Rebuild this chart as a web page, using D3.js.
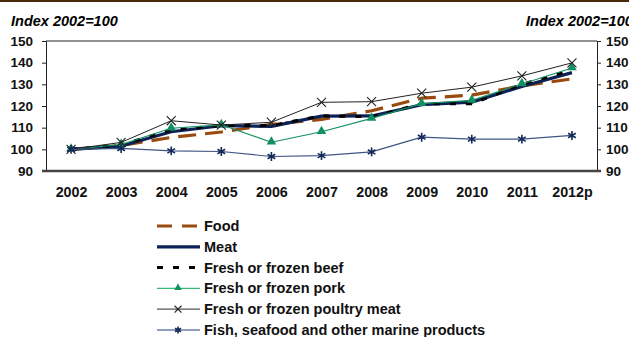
<!DOCTYPE html>
<html>
<head>
<meta charset="utf-8">
<script src="https://cdn.jsdelivr.net/npm/d3@7"></script>
<style>
  body { margin: 0; background: #fff; }
  svg { display: block; font-family: "Liberation Sans", Arial, sans-serif; }
</style>
</head>
<body>
<svg id="chart" width="629" height="337"></svg>
<script>
// data
var years = ["2002", "2003", "2004", "2005", "2006", "2007", "2008", "2009", "2010", "2011", "2012p"];
var food    = [100, 101.8, 105.5, 108, 111.5, 113.8, 117.8, 123.6, 125, 129.3, 132.5];
var meat    = [100, 101.5, 108.1, 110.9, 110.6, 115.3, 115.4, 120.6, 121.8, 129, 135.4];
var beef    = [100, 102, 109, 111, 111, 115.5, 115, 121, 121, 130, 136.5];
var pork    = [100, 102.2, 109.7, 111.3, 103.3, 108.1, 114.3, 121.1, 122.6, 130.2, 137.5];
var poultry = [100, 103.2, 113.2, 111.2, 112.5, 121.7, 122, 125.9, 128.7, 133.9, 139.9];
var fish    = [100, 100.4, 99.3, 99, 96.7, 97.1, 98.8, 105.6, 104.7, 104.7, 106.4];
var yTicks  = [90, 100, 110, 120, 130, 140, 150];

var series = [
  {name: "Food", values: food, color: "#9a4a0e", width: 3.2, dash: "18,9", marker: null},
  {name: "Meat", values: meat, color: "#0c2256", width: 3.2, dash: null, marker: null},
  {name: "Fresh or frozen beef", values: beef, color: "#000", width: 3, dash: "6,10", marker: null},
  {name: "Fresh or frozen pork", values: pork, color: "#139060", width: 1.1, dash: null, marker: "tri"},
  {name: "Fresh or frozen poultry meat", values: poultry, color: "#222", width: 1, dash: null, marker: "x"},
  {name: "Fish, seafood and other marine products", values: fish, color: "#3f5684", width: 1.2, dash: null, marker: "ast"}
];

var svg = d3.select("#chart");
var pLeft = 46, pRight = 597, pTop = 41, pBottom = 171;

var x = d3.scalePoint().domain(years).range([pLeft, pRight]).padding(0.5);
var y = d3.scaleLinear().domain([90, 150]).range([pBottom, pTop]);

// brown rule at the very top
svg.append("rect").attr("x", 0).attr("y", 0).attr("width", 629).attr("height", 2).attr("fill", "#4a2c0c");

// titles
svg.append("text").attr("x", 11).attr("y", 26).text("Index 2002=100")
  .style("font-size", "14.5px").style("font-weight", "bold").style("font-style", "italic");
svg.append("text").attr("x", 526).attr("y", 26).text("Index 2002=100")
  .style("font-size", "14.5px").style("font-weight", "bold").style("font-style", "italic");

// axes
var yl = svg.append("g").attr("transform", "translate(" + pLeft + ",0)")
  .call(d3.axisLeft(y).tickValues(yTicks).tickSize(4).tickPadding(9));
var yr = svg.append("g").attr("transform", "translate(" + pRight + ",0)")
  .call(d3.axisRight(y).tickValues(yTicks).tickSize(4).tickPadding(5));
[yl, yr].forEach(function(g) {
  g.select(".domain").attr("stroke", "#222");
  g.selectAll(".tick line").attr("stroke", "#222");
  g.selectAll("text").style("font-size", "13.5px").style("font-weight", "bold").attr("fill", "#111");
});

// top frame line
svg.append("line").attr("x1", pLeft).attr("x2", pRight).attr("y1", pTop).attr("y2", pTop)
  .attr("stroke", "#222").attr("stroke-width", 1);

var xa = svg.append("g").attr("transform", "translate(0," + pBottom + ")")
  .call(d3.axisBottom(x).tickSize(0).tickPadding(16));
xa.select(".domain").remove();
xa.selectAll("text").style("font-size", "14.3px").style("font-weight", "bold").attr("fill", "#111");
svg.append("line").attr("x1", pLeft - 4).attr("x2", pRight + 4).attr("y1", pBottom).attr("y2", pBottom)
  .attr("stroke", "#444").attr("stroke-width", 2.5);

var line = d3.line().x(function(d, i) { return x(years[i]); }).y(function(d) { return y(d); });

function drawMarker(g, type, color, cx, cy, scale) {
  scale = scale || 1;
  if (type === "tri") {
    g.append("path").attr("d", d3.symbol().type(d3.symbolTriangle).size(40 * scale)())
      .attr("transform", "translate(" + cx + "," + (cy - 0.5) + ")").attr("fill", color);
  } else if (type === "x") {
    g.append("path").attr("d", d3.symbol().type(d3.symbolTimes).size(55 * scale)())
      .attr("transform", "translate(" + cx + "," + cy + ")")
      .attr("fill", "none").attr("stroke", "#222").attr("stroke-width", 1.1);
  } else if (type === "ast") {
    g.append("path").attr("d", d3.symbol().type(d3.symbolAsterisk).size(55 * scale)())
      .attr("transform", "translate(" + cx + "," + cy + ")")
      .attr("fill", "none").attr("stroke", "#14295a").attr("stroke-width", 1.6);
  }
}

var plot = svg.append("g");
series.forEach(function(s) {
  plot.append("path").datum(s.values).attr("d", line)
    .attr("fill", "none").attr("stroke", s.color).attr("stroke-width", s.width)
    .attr("stroke-dasharray", s.dash).attr("stroke-linejoin", "round");
  if (s.marker) {
    s.values.forEach(function(v, i) { drawMarker(plot, s.marker, s.color, x(years[i]), y(v)); });
  }
});

// legend
var legend = svg.append("g");
var legendY = d3.scaleLinear().domain([0, 5]).range([226, 330]);
series.forEach(function(s, i) {
  var ly = legendY(i);
  var lc = s.marker === "tri" ? "#3ab878" : (s.marker === "ast" ? "#6a7ea8" : (s.marker === "x" ? "#555" : s.color));
  legend.append("line").attr("x1", 157).attr("x2", 200).attr("y1", ly).attr("y2", ly)
    .attr("stroke", lc).attr("stroke-width", s.marker ? 1.3 : s.width)
    .attr("stroke-dasharray", s.name === "Food" ? "15,10" : s.dash);
  if (s.marker) drawMarker(legend, s.marker, s.color, 178, ly, 0.6);
  legend.append("text").attr("x", 204).attr("y", ly + 5).text(s.name)
    .style("font-size", "14.5px").style("font-weight", "bold").attr("fill", "#111");
});
</script>
</body>
</html>
